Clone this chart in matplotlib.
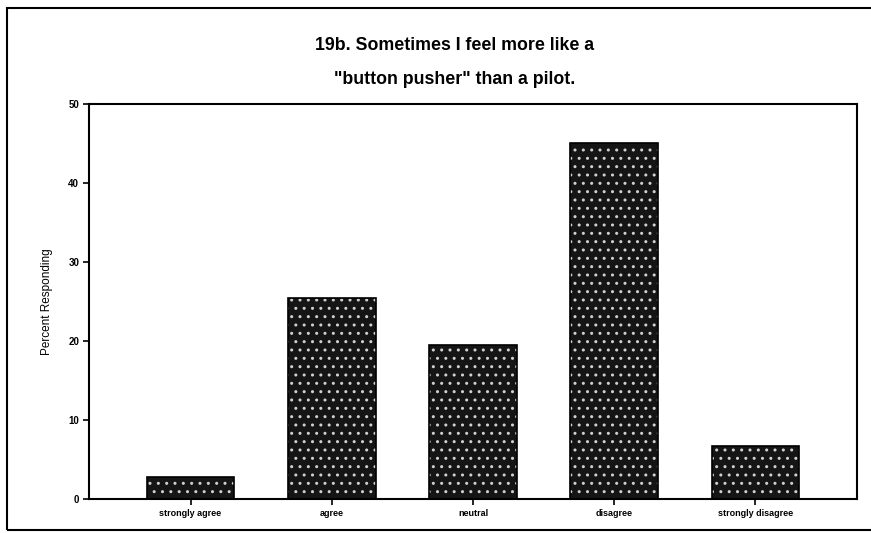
import numpy as np
import matplotlib.pyplot as plt
from matplotlib.patches import Rectangle

# survey responses, question 19b
categories = ['strongly agree', 'agree', 'neutral', 'disagree', 'strongly disagree']
percent = [2.8, 25.4, 19.5, 45.0, 6.7]

plt.rcParams['font.family'] = ['Liberation Sans', 'DejaVu Sans']

fig = plt.figure(figsize=(8.71, 5.33), dpi=100)
ax = fig.add_axes([0.102, 0.064, 0.882, 0.741])

x = np.arange(len(categories))
# dotted fill, then a black outline on top
ax.bar(x, percent, width=0.62, color='#151515', edgecolor='#d0d0d0',
       hatch='..', linewidth=0, zorder=2)
ax.bar(x, percent, width=0.62, color='none', edgecolor='black',
       linewidth=1.2, zorder=3)

ax.set_xlim(-0.72, 4.72)
ax.set_ylim(0, 50)
ax.set_yticks([0, 10, 20, 30, 40, 50])
ax.set_xticks(x)
ax.set_xticklabels(categories, fontsize=6.5, fontweight='bold')
for lab in ax.get_yticklabels():
    lab.set_fontsize(7)
    lab.set_fontweight('bold')
ax.tick_params(axis='both', direction='out', length=4, width=1.2, pad=3)
ax.set_ylabel('Percent Responding', fontsize=8.5, labelpad=11)
for s in ax.spines.values():
    s.set_linewidth(1.5)

fig.text(0.522, 0.915, '19b. Sometimes I feel more like a', ha='center',
         va='center', fontsize=12.8, fontweight='bold')
fig.text(0.522, 0.85, '"button pusher" than a pilot.', ha='center',
         va='center', fontsize=12.8, fontweight='bold')

# outer frame of the page
fig.patches.append(Rectangle((0.008, 0.006), 0.995, 0.979,
                             transform=fig.transFigure, fill=False,
                             edgecolor='black', linewidth=1.5))

fig.savefig('out.png', dpi=100)
